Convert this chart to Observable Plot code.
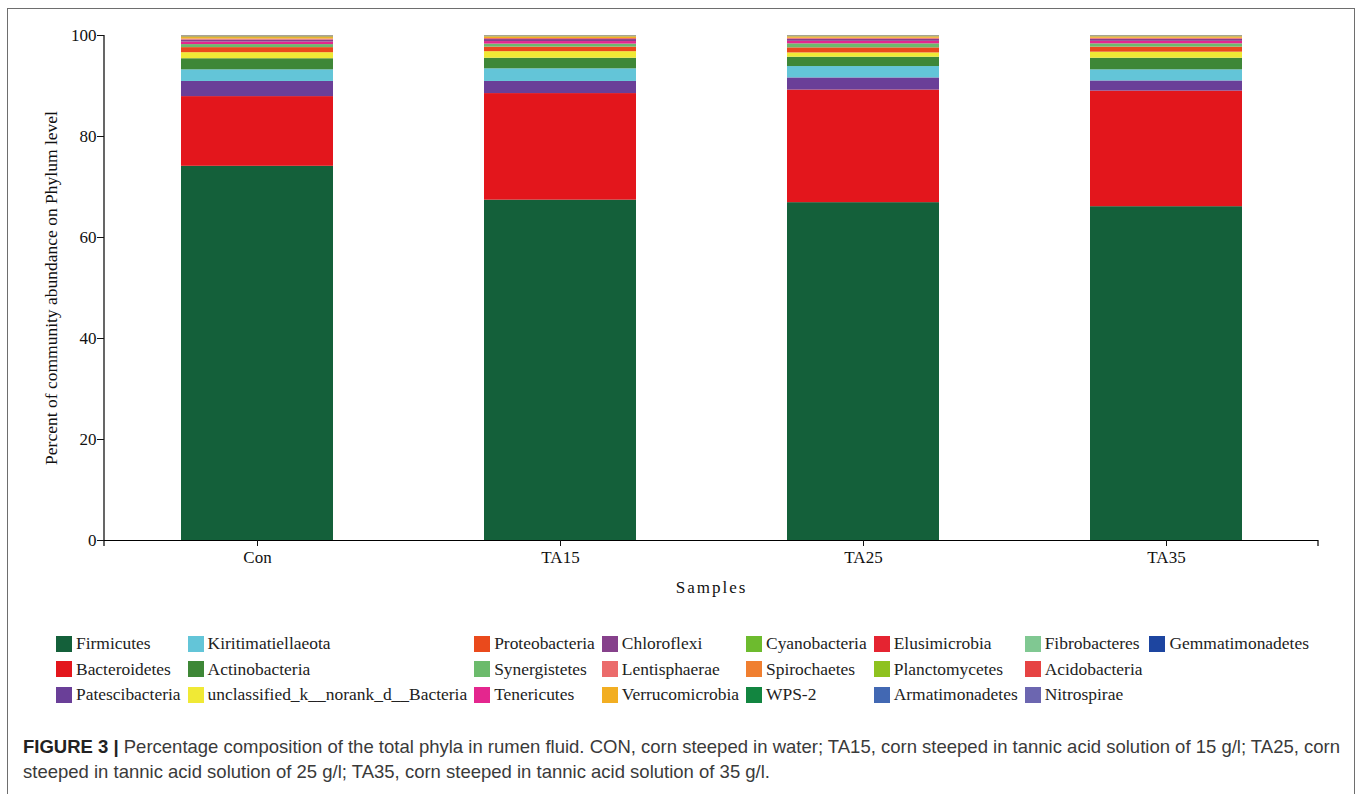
<!DOCTYPE html>
<html>
<head>
<meta charset="utf-8">
<script src="https://cdn.jsdelivr.net/npm/d3@7"></script>
<script src="https://cdn.jsdelivr.net/npm/@observablehq/plot@0.6"></script>
<style>
  html, body { margin: 0; padding: 0; background: #fff; overflow: hidden; }
  body { width: 1363px; height: 794px; position: relative; }
  #frame { position: absolute; left: 7px; top: 8px; width: 1348px; height: 820px;
           border: 1.5px solid #6e6e6e; box-sizing: border-box; }
  #chart { position: absolute; left: 0; top: 0; }
  #chart g[aria-label="x-axis label"] text { letter-spacing: 2px; font-size: 17px; }
  #chart g[aria-label="y-axis label"] text { font-size: 17.5px; }
  #legend { position: absolute; left: 56px; top: 631px; display: grid;
            grid-template-rows: repeat(3, 25.5px); grid-auto-flow: column;
            grid-auto-columns: max-content; column-gap: 7px;
            font-family: "Liberation Serif", "Times New Roman", serif; font-size: 17.45px; color: #222; }
  #legend .item { display: flex; align-items: center; white-space: pre; }
  #legend .sw { width: 16px; height: 16px; margin-right: 4px; flex: none; }
  #caption { position: absolute; left: 23px; top: 734px; width: 1330px;
             font-family: "Liberation Sans", Arial, sans-serif; font-size: 18.5px; line-height: 25px;
             color: #3a3a3a; white-space: nowrap; }
  #caption b { color: #222; }
</style>
</head>
<body>
<div id="frame"></div>
<div id="chart"></div>
<div id="legend"></div>
<div id="caption"><b>FIGURE 3 |</b> Percentage composition of the total phyla in rumen fluid. CON, corn steeped in water; TA15, corn steeped in tannic acid solution of 15 g/l; TA25, corn<br>steeped in tannic acid solution of 25 g/l; TA35, corn steeped in tannic acid solution of 35 g/l.</div>
<script>
// Samples on the x axis
const samples = ["Con", "TA15", "TA25", "TA35"];

// Phyla, bottom of the stack to top (also the legend order, column by column)
const phyla = [
  "Firmicutes", "Bacteroidetes", "Patescibacteria",
  "Kiritimatiellaeota", "Actinobacteria", "unclassified_k__norank_d__Bacteria",
  "Proteobacteria", "Synergistetes", "Tenericutes",
  "Chloroflexi", "Lentisphaerae", "Verrucomicrobia",
  "Cyanobacteria", "Spirochaetes", "WPS-2",
  "Elusimicrobia", "Planctomycetes", "Armatimonadetes",
  "Fibrobacteres", "Acidobacteria", "Nitrospirae",
  "Gemmatimonadetes"
];

const phylumColors = [
  "#14603a", "#e3161c", "#6a3f98",
  "#63c5d8", "#3e8737", "#f0e935",
  "#ea4a1c", "#6cbb6c", "#e4268e",
  "#86418b", "#eb6b6b", "#f2ae22",
  "#6dbb2e", "#f07f30", "#128540",
  "#e52431", "#8ec21f", "#4268b3",
  "#80c892", "#e64343", "#6c66b0",
  "#1d45a0"
];

// Relative abundance (%) per sample, aligned with `phyla`
const con  = [74.1, 13.8, 3.0, 2.3, 2.2, 1.2, 1.0, 0.6, 0.5, 0.4, 0.2, 0.29, 0.10, 0.08, 0.06, 0.05, 0.04, 0.03, 0.02, 0.01, 0.01, 0.01];
const ta15 = [67.4, 21.1, 2.4, 2.5, 2.1, 1.3, 0.9, 0.6, 0.5, 0.4, 0.2, 0.25, 0.09, 0.07, 0.05, 0.04, 0.03, 0.03, 0.02, 0.01, 0.005, 0.005];
const ta25 = [66.9, 22.3, 2.4, 2.25, 1.85, 0.85, 1.0, 0.8, 0.5, 0.4, 0.2, 0.2, 0.09, 0.07, 0.05, 0.04, 0.03, 0.03, 0.02, 0.01, 0.005, 0.005];
const ta35 = [66.1, 22.9, 2.0, 2.2, 2.3, 1.2, 1.0, 0.65, 0.5, 0.4, 0.2, 0.2, 0.09, 0.07, 0.05, 0.04, 0.03, 0.03, 0.02, 0.01, 0.005, 0.005];

const bySample = [con, ta15, ta25, ta35];
const rows = samples.flatMap((s, i) =>
  phyla.map((p, j) => ({sample: s, phylum: p, value: bySample[i][j]}))
);

// Left axis line plus the end ticks under the x axis
function axisFrame(index, scales, values, dims) {
  const x0 = dims.marginLeft, x1 = dims.width - dims.marginRight;
  const y0 = dims.marginTop, y1 = dims.height - dims.marginBottom;
  const g = d3.create("svg:g").attr("stroke", "#000").attr("stroke-width", 1.2).attr("fill", "none");
  g.append("path").attr("d", `M${x0},${y0}V${y1}`);
  g.append("path").attr("d", `M${x0},${y1}v6M${x1},${y1}v6`);
  return g.node();
}

const chart = Plot.plot({
  width: 1363,
  height: 620,
  marginLeft: 104,
  marginRight: 45,
  marginTop: 35,
  marginBottom: 80,
  style: {
    fontFamily: "'Liberation Serif', 'Times New Roman', serif",
    fontSize: "17px",
    color: "#111",
    background: "transparent",
    overflow: "visible"
  },
  x: {domain: samples, paddingInner: 0.5, paddingOuter: 0.25},
  y: {domain: [0, 100]},
  color: {domain: phyla, range: phylumColors},
  marks: [
    Plot.barY(rows, {x: "sample", y: "value", fill: "phylum"}),
    Plot.ruleY([0], {stroke: "#000", strokeWidth: 1.2}),
    axisFrame,
    Plot.axisY({
      ticks: [0, 20, 40, 60, 80, 100],
      tickSize: 7, tickPadding: 1, fontSize: 17,
      label: "Percent of community abundance on Phylum level",
      labelAnchor: "center", labelArrow: "none", labelOffset: 60
    }),
    Plot.axisX({
      tickSize: 6, tickPadding: 4, fontSize: 17,
      label: "Samples", labelAnchor: "center", labelArrow: "none", labelOffset: 52
    })
  ]
});
document.getElementById("chart").append(chart);

// Legend: three rows, filled column by column
const legend = d3.select("#legend");
phyla.forEach((p, i) => {
  const item = legend.append("div").attr("class", "item");
  item.append("span").attr("class", "sw").style("background", phylumColors[i]);
  item.append("span").text(p);
});
</script>
</body>
</html>
